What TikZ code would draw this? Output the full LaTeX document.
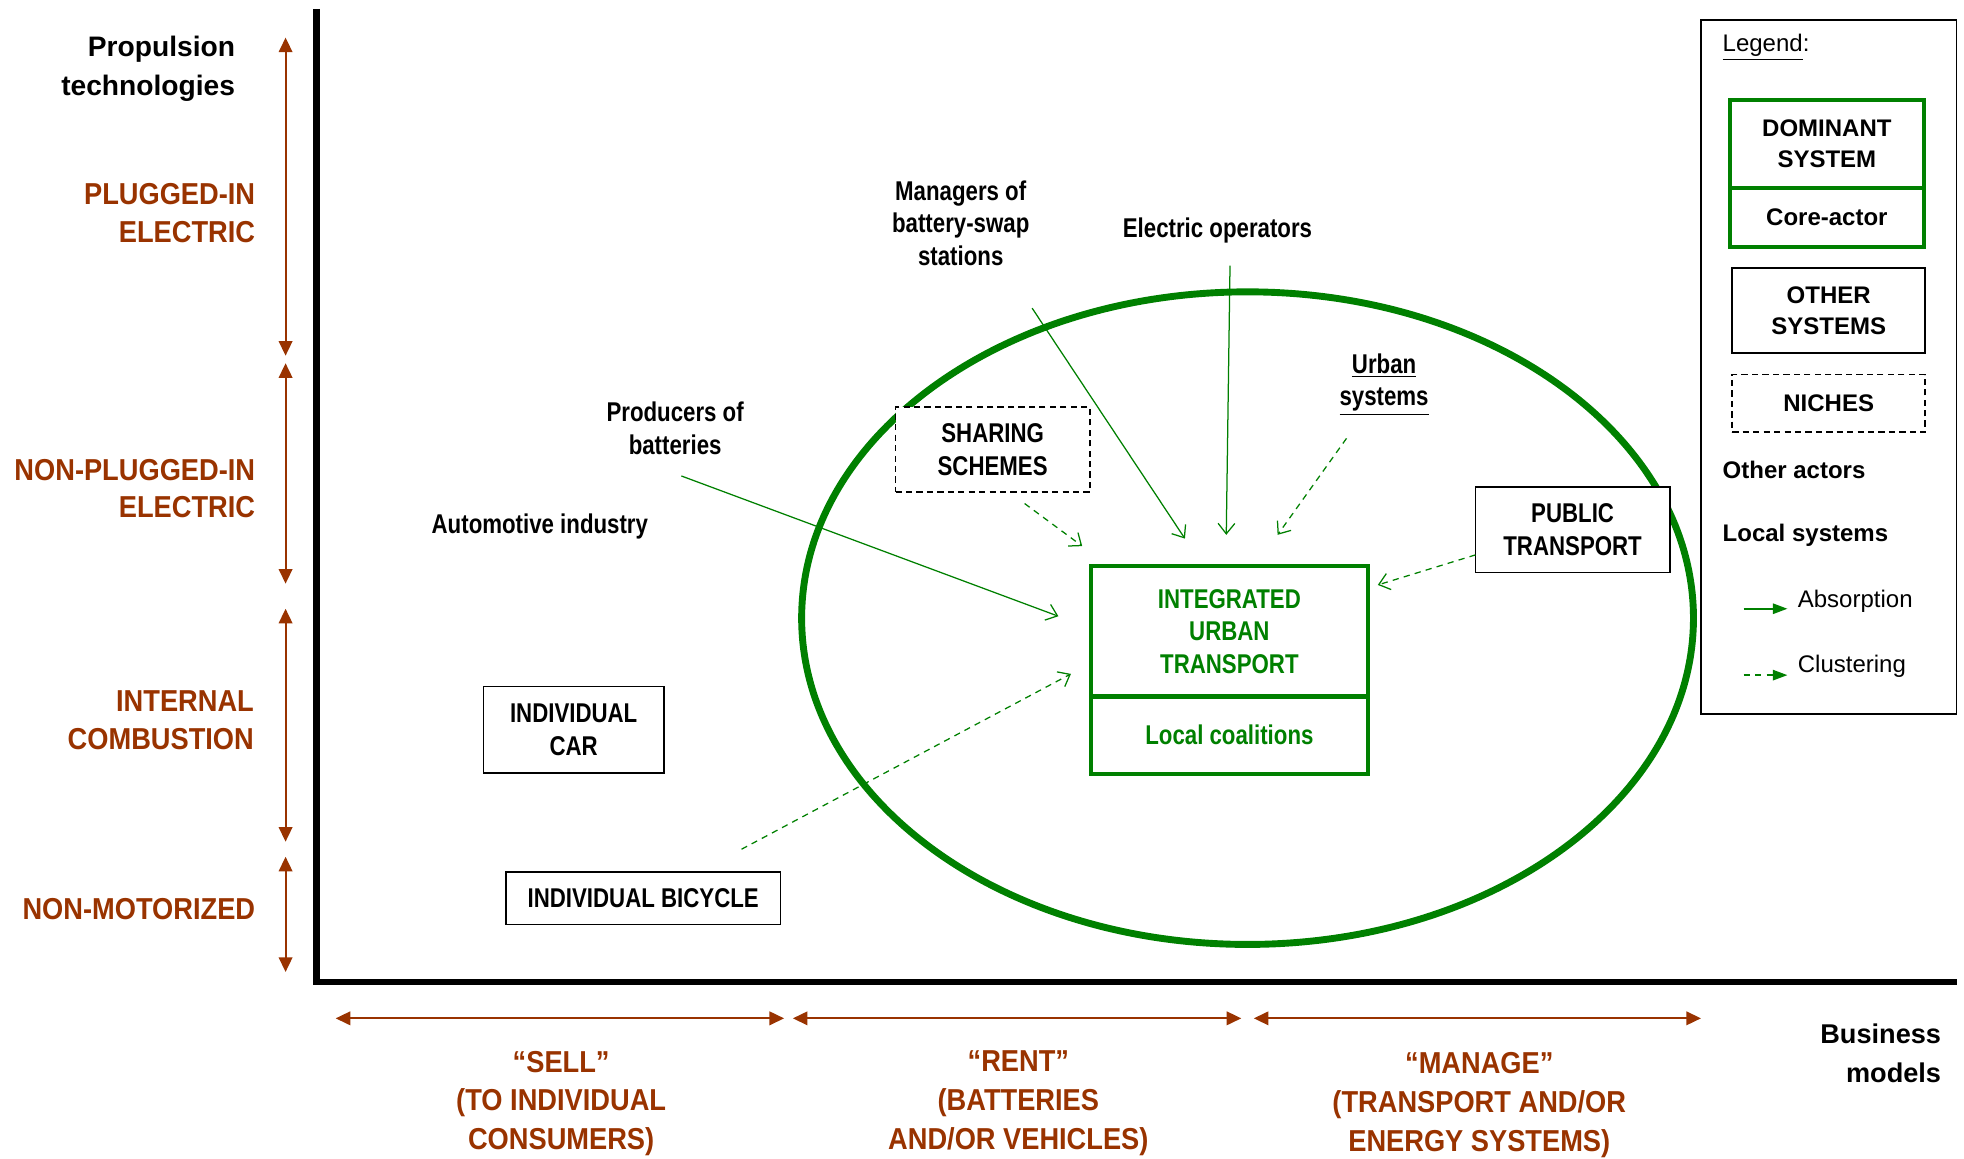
\documentclass[tikz,border=0pt]{standalone}
\usepackage{fontspec}
\setmainfont{Liberation Sans}
\newfontfamily\cond[FakeStretch=0.82]{Liberation Sans}
\newfontfamily\semicond[FakeStretch=0.9]{Liberation Sans}
\usetikzlibrary{arrows.meta}
\definecolor{rust}{RGB}{153,51,0}
\definecolor{leaf}{RGB}{0,128,0}

\begin{document}
\begin{tikzpicture}
  [x=0.6pt,y=-0.6pt,
   lbl/.style={font=\cond\bfseries\fontsize{13}{15.6}\selectfont,align=center,inner sep=0pt},
   tech/.style={font=\semicond\bfseries\fontsize{14.5}{18}\selectfont,text=rust,align=right,anchor=east,inner sep=0pt},
   bmod/.style={font=\semicond\bfseries\fontsize{14.5}{18.6}\selectfont,text=rust,align=center,inner sep=0pt},
   sys/.style={lbl,draw,fill=white,line width=0.8pt,minimum width=93pt,minimum height=40.8pt},
   niche/.style={sys,dash pattern=on 3pt off 2pt},
   core/.style={lbl,draw=leaf,text=leaf,fill=white,line width=2.1pt,minimum width=132.6pt},
   leg/.style={font=\bfseries\fontsize{11.5}{15}\selectfont,align=center,inner sep=0pt},
   legtxt/.style={font=\fontsize{11.5}{14}\selectfont,anchor=west,inner sep=0pt},
   rangearrow/.style={rust,line width=0.9pt,{Triangle[length=7pt,width=6.5pt]}-{Triangle[length=7pt,width=6.5pt]}},
   absorb/.style={leaf,line width=0.6pt,-{Straight Barb[length=5pt,width=8pt]}},
   cluster/.style={absorb,dash pattern=on 3pt off 2.5pt}]
	\useasboundingbox (0,0) rectangle (1568,925);

	% axes and ranges
	\draw[line width=3.3pt] (253,7) -- (253,784) -- (1562,784);
	\foreach \a/\b in {30/284,290/466,486/672,684/776}
		\draw[rangearrow] (228,\a) -- (228,\b);
	\foreach \a/\b in {268/626,633/991,1001/1358}
		\draw[rangearrow] (\a,813) -- (\b,813);

	\node[font=\bfseries\fontsize{13.5}{19}\selectfont,align=right,anchor=east,inner sep=0pt] (propul) at (188,55) {Propulsion\\technologies};
	\node[tech] (plugged) at (204,170) {PLUGGED-IN\\ELECTRIC};
	\node[tech] (nonplug) at (204,390) {NON-PLUGGED-IN\\ELECTRIC};
	\node[tech] (combust) at (203,575) {INTERNAL\\COMBUSTION};
	\node[tech] (nonmotor) at (204,726) {NON-MOTORIZED};

	\node[bmod] (sell) at (448,881) {“SELL”\\(TO INDIVIDUAL\\CONSUMERS)};
	\node[bmod] (rent) at (813,881) {“RENT”\\(BATTERIES\\AND/OR VEHICLES)};
	\node[bmod] (manage) at (1181,882) {“MANAGE”\\(TRANSPORT AND/OR\\ENERGY SYSTEMS)};
	\node[font=\bfseries\fontsize{13}{18.6}\selectfont,align=right,anchor=east,inner sep=0pt] (busmod) at (1550,841) {Business\\models};

	% local system
	\draw[leaf,line width=3.3pt] (996,493.5) ellipse [x radius=356,y radius=260.5];
	\node[core,minimum height=62.4pt] (iut) at (981.5,504) {INTEGRATED\\URBAN\\TRANSPORT};
	\node[core,minimum height=37.2pt] (loc) at (981.5,587) {Local coalitions};
	\node[niche] (share) at (792.5,359) {SHARING\\SCHEMES};
	\node[sys] (pubtr) at (1255.5,423) {PUBLIC\\TRANSPORT};
	\node[sys,minimum width=86.4pt,minimum height=41.4pt] (car) at (458,582.5) {INDIVIDUAL\\CAR};
	\node[sys,minimum width=131.4pt,minimum height=25.2pt] (bike) at (513.5,717) {INDIVIDUAL BICYCLE};

	\node[lbl] (mgrs) at (767,178) {Managers of\\battery-swap\\stations};
	\node[lbl] (elop) at (972,184) {Electric operators};
	\node[lbl] (urbsys) at (1105,307) {\underline{Urban}\\\underline{systems}};
	\node[lbl] (batprod) at (539,342) {Producers of\\batteries};
	\node[lbl] (autoind) at (431,420) {Automotive industry};

	\coordinate (mgrsA) at (824,246);   \coordinate (mgrsB) at (946,430);
	\coordinate (elopA) at (982,212);   \coordinate (elopB) at (979,427);
	\coordinate (batA) at (544,380);    \coordinate (batB) at (845,492);
	\coordinate (urbA) at (1075,350);   \coordinate (urbB) at (1020,427);
	\coordinate (shareA) at (818,402);  \coordinate (shareB) at (864,436);
	\coordinate (bikeA) at (592,678);   \coordinate (bikeB) at (855,538);
	\coordinate (pubA) at (1178,443);   \coordinate (pubB) at (1100,467);

	\foreach \from/\to in {mgrsA/mgrsB,elopA/elopB,batA/batB}
		\draw[absorb] (\from) -- (\to);
	\foreach \from/\to in {urbA/urbB,shareA/shareB,bikeA/bikeB,pubA/pubB}
		\draw[cluster] (\from) -- (\to);

	% legend
	\draw[line width=0.8pt] (1358,16) rectangle (1562,570);
	\node[legtxt] (legtitle) at (1375,38) {\underline{Legend}:};
	\node[leg,draw=leaf,line width=2.1pt,minimum width=93pt,minimum height=42pt] (ldom) at (1458.5,115) {DOMINANT\\SYSTEM};
	\node[leg,draw=leaf,line width=2.1pt,minimum width=93pt,minimum height=28.2pt] (lcore) at (1458.5,173.5) {Core-actor};
	\node[leg,draw,line width=0.8pt,minimum width=92.4pt,minimum height=40.8pt] (lother) at (1460,248) {OTHER\\SYSTEMS};
	\node[leg,draw,line width=0.8pt,dash pattern=on 3pt off 2pt,minimum width=92.4pt,minimum height=27.6pt] (lniche) at (1460,322) {NICHES};
	\node[leg,anchor=west] (lactors) at (1375,375) {Other actors};
	\node[leg,anchor=west] (llocal) at (1375,427) {Local systems};
	\coordinate (labsA) at (1392,486);  \coordinate (labsB) at (1427,486);
	\coordinate (lcluA) at (1392,539);  \coordinate (lcluB) at (1427,539);
	\draw[leaf,line width=0.8pt,-{Triangle[length=7pt,width=5pt]}] (labsA) -- (labsB);
	\draw[leaf,line width=0.8pt,dash pattern=on 3pt off 2.5pt,-{Triangle[length=7pt,width=5pt]}] (lcluA) -- (lcluB);
	\node[legtxt] (labs) at (1435,480) {Absorption};
	\node[legtxt] (lclu) at (1435,532) {Clustering};
\end{tikzpicture}
\end{document}
